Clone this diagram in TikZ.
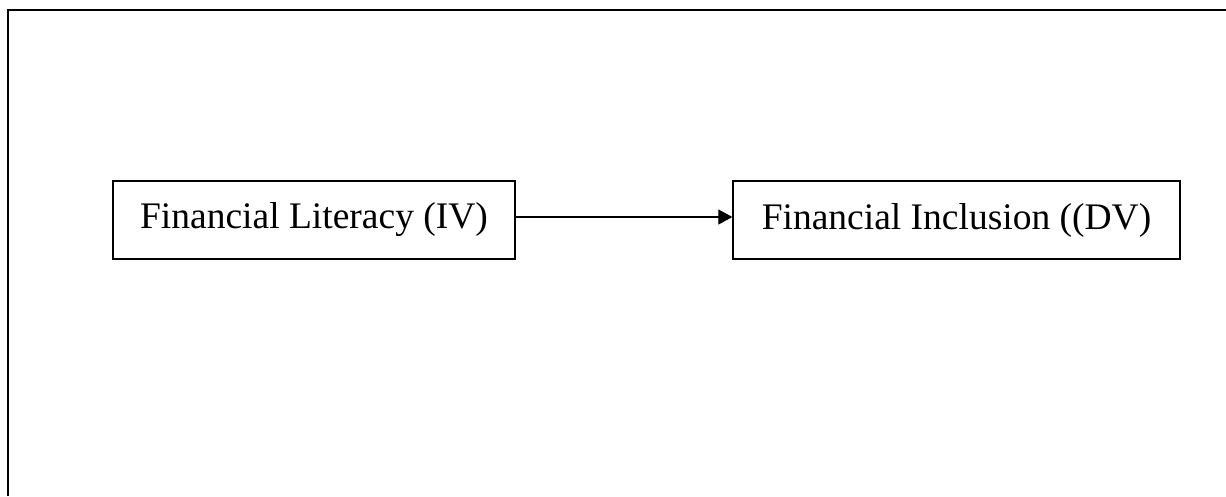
\documentclass[tikz,border=0pt]{standalone}
\usepackage{fontspec}
\setmainfont{Liberation Serif}
\usepackage{tikz}
\usetikzlibrary{arrows.meta}

\begin{document}
\begin{tikzpicture}[x=1pt,y=-1pt,
  box/.style={draw,line width=1.3pt,minimum width=402pt,minimum height=78pt,
              align=center,inner sep=0pt,font=\fontsize{37.5}{45}\selectfont},
  arr/.style={-{Triangle[length=14pt,width=15pt]},line width=1.2pt}]

  \useasboundingbox (0,0) rectangle (1226,496);

  % outer frame (cut at the page edge)
  \draw[line width=2pt] (8,496) -- (8,10) -- (1226,10);

  \node[box] (lit) at (314,220) {Financial Literacy (IV)};
  \node[box,minimum width=447pt] (inc) at (956.5,220) {Financial Inclusion ((DV)};

  \draw[arr] ([yshift=3pt]lit.east) -- ([yshift=3pt]inc.west);

\end{tikzpicture}
\end{document}
